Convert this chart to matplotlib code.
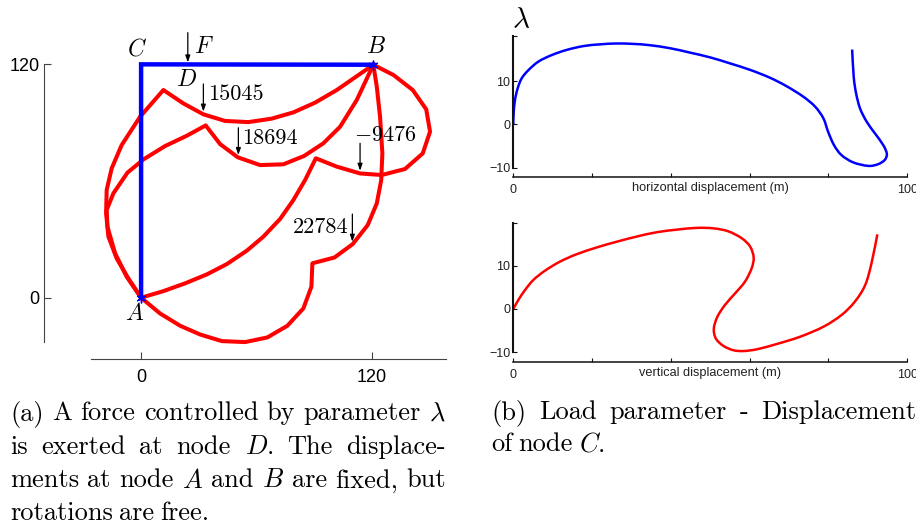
import matplotlib
matplotlib.use('Agg')
import matplotlib.pyplot as plt
from matplotlib.path import Path
from matplotlib.patches import PathPatch

# node displacement shapes
shape1_x = [0, -6.6, -12.7, -17, -18.2, -17.9, -15.3, -10.1, -0.5, 11.6, 22, 32.4, 43.7, 55.8, 68, 79.2, 90.5, 101.8, 120.8]
shape1_y = [0, 9.9, 20.2, 31.4, 43.4, 55.4, 66.5, 78.5, 93.1, 106.8, 99.9, 94.3, 90.9, 90.3, 92.1, 95.3, 100.3, 106.8, 119.8]
shape2_x = [0, -7.5, -13.5, -17.5, -17.9, -14.4, -7.1, 1.2, 12.5, 23.8, 33.6, 41.1, 50.3, 61.9, 74, 84.8, 94.8, 103.5, 112.2, 120.8]
shape2_y = [0, 10.8, 22.8, 36.5, 45.1, 53.7, 64.3, 71.1, 78, 83.3, 88.6, 79, 72.2, 68.2, 68.6, 72.9, 79.4, 87.9, 101.7, 119.8]
shape3_x = [0, 11.6, 22.9, 34.2, 44.6, 55, 63.6, 72.3, 79.2, 85.3, 90.9, 101.8, 113.9, 125.2, 137.3, 146.5, 150.3, 148.3, 141.3, 131.3, 120.8]
shape3_y = [0, 3.4, 7.4, 12, 17.3, 24.2, 31.4, 40.5, 50.2, 60.5, 71.7, 67.4, 63.9, 63.1, 66.2, 74.2, 85.4, 96.9, 106.8, 114.5, 119.8]
shape4_x = [0, 9.9, 20.3, 30.7, 42, 54.1, 65.7, 76.1, 84.4, 88.6, 89.1, 100.6, 110.1, 117.9, 122.6, 124.9, 125.5, 124.3, 122.6, 120.8]
shape4_y = [0, -8.1, -14.4, -18.9, -22.3, -22.8, -20.4, -14.4, -5.5, 5.7, 17.7, 20.7, 27.6, 37.4, 48.5, 60.5, 74.2, 93.1, 108.5, 119.8]
frame_x = [0, 0, 120.8]
frame_y = [0, 120, 119.8]

horiz_disp = [0, 0.08, 0.42, 1.1, 2.1, 3.8, 6.35, 9.7, 13.5, 17.8, 22, 26.2, 30.5, 34.7, 39.8, 44.8, 49.9, 55, 60.1, 65.1, 69.4, 73.6, 76.6, 78.7, 79.9, 81.4, 83.3, 86.3, 90.1, 92.6, 94.3, 94.8, 93.9, 91.8, 89.7, 88, 87, 86.4, 86]
horiz_lam = [0, 2.5, 5.6, 8.3, 10.6, 12.5, 14.5, 16, 17.2, 18.1, 18.5, 18.7, 18.6, 18.3, 17.6, 16.6, 15.5, 14.1, 12.6, 10.8, 8.8, 6.4, 4.1, 1.4, -1.7, -4.8, -7.1, -8.8, -9.6, -9.2, -8.2, -6.8, -4.8, -2.1, 0.6, 3.7, 7.2, 11, 17.3]
vert_disp = [0, 1.3, 3, 5.1, 8, 11.8, 16, 21.2, 26.2, 31.3, 36.4, 41.5, 46.5, 50.8, 54.6, 58, 60.1, 61, 60.5, 58.8, 56.3, 53.7, 51.8, 50.9, 51.4, 53.3, 55.8, 58.4, 61.8, 66.8, 72.8, 78.7, 83.3, 86.7, 89.3, 90.9, 92.4]
vert_lam = [0, 2.1, 4.4, 6.7, 8.8, 10.9, 12.6, 14.2, 15.5, 16.7, 17.7, 18.3, 18.7, 18.6, 17.9, 16.3, 14.4, 11.9, 9.4, 6.3, 3.6, 0.9, -1.8, -4.5, -6.8, -8.5, -9.5, -9.7, -9.3, -8.1, -6.4, -4.1, -1.4, 1.7, 5.5, 10.5, 17.2]

plt.rcParams['mathtext.fontset'] = 'cm'
plt.rcParams['axes.unicode_minus'] = False
plt.rcParams['font.family'] = ['Liberation Sans', 'DejaVu Sans']

W, H = 916, 524
fig = plt.figure(figsize=(W / 100, H / 100), dpi=100)


def px_axes(left, top, right, bottom):
    return fig.add_axes([left / W, 1 - bottom / H, (right - left) / W, (bottom - top) / H])


# (a) structure
ax = px_axes(44, 20, 446, 359)
ax.set_xlim(-50.5, 158.6)
ax.set_ylim(-31.5, 142.8)
for sx, sy in [(shape1_x, shape1_y), (shape2_x, shape2_y), (shape3_x, shape3_y), (shape4_x, shape4_y)]:
    ax.plot(sx, sy, color='#ff0000', lw=2.9, solid_joinstyle='round')
ax.plot(frame_x, frame_y, color='#0000ff', lw=3.2, solid_joinstyle='miter')
ax.plot([0, 120.8], [0, 119.8], ls='', marker=(6, 2, 0), color='#0000ff', ms=7, mew=1)
ax.spines[['top', 'right']].set_visible(False)
ax.spines['left'].set_bounds(-22.7, 120)
ax.spines['bottom'].set_bounds(-26, 158.6)
ax.spines['left'].set_color('#444444')
ax.spines['bottom'].set_color('#444444')
ax.set_xticks([0, 120])
ax.set_yticks([0, 120])
ax.tick_params(direction='in', length=5, color='#444444', labelsize=13)
ax.tick_params(axis='y', pad=3)
ax.tick_params(axis='x', pad=7)
ax.patch.set_alpha(0)

for lab, tx, ty in [('C', -2.2, 127.7), ('D', 23.4, 112.2), ('F', 32.4, 129), ('B', 122.3, 128.7), ('A', -3.6, -8.4)]:
    ax.text(tx, ty, '$' + lab + '$', fontsize=17, ha='center', va='center')
for lab, tx, ty, ha in [('15045', 35, 104.5, 'left'), ('18694', 52.7, 82, 'left'),
                        ('$-$9476', 110.8, 83.3, 'left'), ('22784', 108, 36.5, 'right')]:
    ax.text(tx, ty, lab, family='cmr10', fontsize=16, ha=ha, va='center')
for ax_x, y0, y1 in [(24.3, 136.3, 121), (32.4, 109.9, 95.7), (50.6, 87.4, 73.4),
                     (113.9, 79.4, 65.3), (109.9, 43, 28.8)]:
    ax.annotate('', xy=(ax_x, y1), xytext=(ax_x, y0),
                arrowprops=dict(arrowstyle='-|>,head_width=0.14,head_length=0.4', color='black', lw=0.9,
                                shrinkA=0, shrinkB=0))


def smooth_path(xs, ys):
    # bezier through the read points so the curve is not drawn as a polygon
    pts = list(zip(xs, ys))
    verts = [pts[0]]
    codes = [Path.MOVETO]
    for i in range(len(pts) - 1):
        p0 = pts[max(i - 1, 0)]
        p1 = pts[i]
        p2 = pts[i + 1]
        p3 = pts[min(i + 2, len(pts) - 1)]
        verts.append((p1[0] + (p2[0] - p0[0]) / 6, p1[1] + (p2[1] - p0[1]) / 6))
        verts.append((p2[0] - (p3[0] - p1[0]) / 6, p2[1] - (p3[1] - p1[1]) / 6))
        verts.append(p2)
        codes += [Path.CURVE4, Path.CURVE4, Path.CURVE4]
    return Path(verts, codes)


# (b) load - displacement curves
def curve_axes(box, xs, ys, color, label, ytop):
    a = px_axes(*box)
    a.set_xlim(0, 100)
    a.set_ylim(ys[0], ys[1])
    a.add_patch(PathPatch(smooth_path(xs[0], xs[1]), fc='none', ec=color, lw=1.8, clip_on=False))
    a.spines[['top', 'right']].set_visible(False)
    a.spines['left'].set_bounds(-10, ytop)
    a.spines['left'].set_linewidth(1.5)
    a.spines['left'].set_color('#111111')
    a.spines['bottom'].set_linewidth(1.1)
    a.spines['bottom'].set_color('#111111')
    a.set_xticks([0, 20, 40, 60, 80, 100])
    a.set_xticklabels(['0', '', '', '', '', '100'])
    a.set_yticks([-10, 0, 10, ytop])
    a.set_yticklabels(['\u221210', '0', '10', ''])
    a.tick_params(direction='in', length=3, labelsize=9, color='#111111', labelcolor='#222222')
    a.tick_params(axis='x', pad=5)
    a.tick_params(axis='y', pad=2)
    a.set_xlabel(label, fontsize=9.2, labelpad=-10, color='#222222')
    a.patch.set_alpha(0)
    return a


curve_axes((513.3, 35.7, 907.3, 176.7), (horiz_disp, horiz_lam), (-12.1, 20.5), '#0000ff',
           'horizontal displacement (m)', 20.5)
curve_axes((513.3, 222.7, 907.3, 362.3), (vert_disp, vert_lam), (-12.3, 19.9), '#ff0000',
           'vertical displacement (m)', 19.9)
fig.text(521 / W, 1 - 20 / H, r'$\lambda$', fontsize=21, ha='center', va='center')


# captions, set word by word so full lines run to the right margin
def caption(x, y, s, right=None, size=19):
    words = s.split(' ')
    rend = fig.canvas.get_renderer()
    items = [fig.text(x / W, 1 - y / H, w, family='cmr10', fontsize=size, ha='left', va='center_baseline')
             for w in words]
    widths = [t.get_window_extent(rend).width for t in items]
    gap = 6.0
    if right is not None and len(words) > 1:
        gap = (right - x - sum(widths)) / (len(words) - 1)
    pos = x
    for t, w in zip(items, widths):
        t.set_x(pos / W)
        pos += w + gap


caption(10, 411, r'(a) A force controlled by parameter $\lambda$', right=446)
caption(10, 445, r'is exerted at node $D$. The displace-', right=446)
caption(10, 478, 'ments at node $A$ and $B$ are fixed, but', right=446)
caption(10, 511, 'rotations are free.')
caption(491, 410, '(b) Load parameter - Displacement', right=916)
caption(491, 442, 'of node $C$.')

plt.savefig('out.png', dpi=100)
